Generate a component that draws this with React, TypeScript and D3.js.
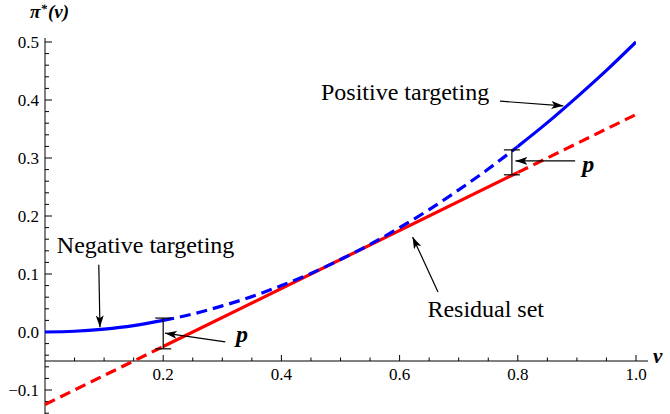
import React, { useEffect, useRef } from 'react';
import * as d3 from 'd3';

// values
const vValues = [0, 0.05, 0.1, 0.15, 0.2, 0.25, 0.3, 0.35, 0.4, 0.45, 0.5, 0.55, 0.6, 0.65, 0.7, 0.75, 0.8, 0.85, 0.9, 0.95, 1.0];
const piValues = [0, 0.0013, 0.005, 0.011, 0.02, 0.031, 0.045, 0.061, 0.08, 0.101, 0.125, 0.151, 0.18, 0.211, 0.245, 0.281, 0.32, 0.361, 0.405, 0.451, 0.5];
const lineV = [0, 0.2, 0.8, 1.0];
const lineValues = [-0.125, -0.025, 0.275, 0.375];

const xTicks = [0.2, 0.4, 0.6, 0.8, 1.0];
const xMinor = [0.05, 0.1, 0.15, 0.25, 0.3, 0.35, 0.45, 0.5, 0.55, 0.65, 0.7, 0.75, 0.85, 0.9, 0.95];
const yTicks = [-0.1, 0, 0.1, 0.2, 0.3, 0.4, 0.5];
const yMinor = [-0.14, -0.12, -0.08, -0.06, -0.04, -0.02, 0.02, 0.04, 0.06, 0.08, 0.12, 0.14, 0.16, 0.18, 0.22, 0.24, 0.26, 0.28, 0.32, 0.34, 0.36, 0.38, 0.42, 0.44, 0.46, 0.48];

// where the solid / dashed pieces switch
const splits = [0, 0.2, 0.8, 1.0];

// annotations, in data units
const labels = [
    { text: 'Positive targeting', v: 0.467, y: 0.4, bold: false },
    { text: 'Negative targeting', v: 0.02, y: 0.136, bold: false },
    { text: 'Residual set', v: 0.647, y: 0.026, bold: false },
    { text: 'p', v: 0.323, y: -0.017, bold: true },
    { text: 'p', v: 0.909, y: 0.276, bold: true },
];
const arrows = [
    { from: [0.77, 0.398], to: [0.877, 0.39] },
    { from: [0.091, 0.116], to: [0.093, 0.008] },
    { from: [0.665, 0.069], to: [0.622, 0.164] },
    { from: [0.305, -0.017], to: [0.203, -0.002] },
    { from: [0.897, 0.295], to: [0.796, 0.295] },
];
const brackets = [
    { v: 0.2, top: 0.024, bottom: -0.029 },
    { v: 0.79, top: 0.314, bottom: 0.271 },
];

const width = 670;
const height = 414;
const serif = '"Liberation Serif", "Times New Roman", serif';

const App: React.FC = () => {
    const svgRef = useRef(null);

    useEffect(() => {
        const svg = d3.select(svgRef.current);
        svg.selectAll('*').remove();

        const x = d3.scaleLinear().domain([0, 1]).range([45, 636]);
        const y = d3.scaleLinear().domain([0, 0.5]).range([332, 42]);
        const axisY = -0.05;

        const defs = svg.append('defs');
        defs.append('marker')
            .attr('id', 'head')
            .attr('markerUnits', 'userSpaceOnUse')
            .attr('markerWidth', 13).attr('markerHeight', 8)
            .attr('refX', 12).attr('refY', 4)
            .attr('orient', 'auto')
            .append('path')
            .attr('d', 'M0,0 L12,4 L0,8 L3,4 z')
            .attr('fill', 'black');

        // one clip per piece so the curve stays continuous across the switch points
        d3.range(splits.length - 1).forEach(i => {
            defs.append('clipPath').attr('id', `seg${i}`)
                .append('rect')
                .attr('x', x(splits[i])).attr('width', x(splits[i + 1]) - x(splits[i]))
                .attr('y', 0).attr('height', height);
        });

        // axes
        const ax = svg.append('g').attr('stroke', 'black').attr('stroke-width', 1);
        ax.append('line').attr('x1', x(0)).attr('x2', 648).attr('y1', y(axisY)).attr('y2', y(axisY));
        ax.append('line').attr('x1', x(0)).attr('x2', x(0)).attr('y1', 38).attr('y2', height);
        ax.selectAll('.xt').data(xTicks).enter().append('line')
            .attr('x1', d => x(d)).attr('x2', d => x(d)).attr('y1', y(axisY)).attr('y2', y(axisY) - 6);
        ax.selectAll('.xm').data(xMinor).enter().append('line')
            .attr('x1', d => x(d)).attr('x2', d => x(d)).attr('y1', y(axisY)).attr('y2', y(axisY) - 3.5);
        ax.selectAll('.yt').data(yTicks).enter().append('line')
            .attr('x1', x(0)).attr('x2', x(0) + 7).attr('y1', d => y(d)).attr('y2', d => y(d));
        ax.selectAll('.ym').data(yMinor).enter().append('line')
            .attr('x1', x(0)).attr('x2', x(0) + 4).attr('y1', d => y(d)).attr('y2', d => y(d));

        const fmt = (d: number) => d3.format('.1f')(d).replace('-', '\u2212');
        svg.selectAll('.xl').data(xTicks).enter().append('text')
            .attr('x', d => x(d)).attr('y', y(axisY) + 19)
            .attr('text-anchor', 'middle').attr('font-family', serif).attr('font-size', 17)
            .text(fmt);
        svg.selectAll('.yl').data(yTicks).enter().append('text')
            .attr('x', x(0) - 6).attr('y', d => y(d) + 5.5)
            .attr('text-anchor', 'end').attr('font-family', serif).attr('font-size', 17)
            .text(fmt);

        // axis titles
        const yTitle = svg.append('text').attr('x', 30).attr('y', 18)
            .attr('font-family', serif).attr('font-size', 19).attr('font-weight', 'bold').attr('font-style', 'italic');
        yTitle.append('tspan').text('\u03c0');
        yTitle.append('tspan').attr('dy', -5).attr('font-size', 13).text('*');
        yTitle.append('tspan').attr('dy', 5).attr('dx', 1).text('(v)');
        svg.append('text').attr('x', 653).attr('y', 363)
            .attr('font-family', serif).attr('font-size', 21).attr('font-weight', 'bold').attr('font-style', 'italic')
            .text('v');

        // curves
        const curvePts = vValues.map((v, i) => [v, piValues[i]] as [number, number]);
        const linePts = lineV.map((v, i) => [v, lineValues[i]] as [number, number]);
        const smooth = d3.line<[number, number]>().x(d => x(d[0])).y(d => y(d[1])).curve(d3.curveNatural);
        const straight = d3.line<[number, number]>().x(d => x(d[0])).y(d => y(d[1]));

        const red = '#ff0000';
        const blue = '#0000ff';
        const redDashed = [true, false, true];
        const blueDashed = [false, true, false];
        redDashed.forEach((dashed, i) => {
            svg.append('path').attr('d', straight(linePts))
                .attr('clip-path', `url(#seg${i})`)
                .attr('fill', 'none').attr('stroke', red).attr('stroke-width', 3.2)
                .attr('stroke-dasharray', dashed ? '11,6' : null);
        });
        blueDashed.forEach((dashed, i) => {
            svg.append('path').attr('d', smooth(curvePts))
                .attr('clip-path', `url(#seg${i})`)
                .attr('fill', 'none').attr('stroke', blue).attr('stroke-width', 3.2)
                .attr('stroke-dasharray', dashed ? '11,6' : null);
        });

        // brackets
        const br = svg.append('g').attr('stroke', 'black').attr('stroke-width', 1.2);
        brackets.forEach(b => {
            br.append('line').attr('x1', x(b.v)).attr('x2', x(b.v)).attr('y1', y(b.top)).attr('y2', y(b.bottom));
            br.append('line').attr('x1', x(b.v) - 8).attr('x2', x(b.v) + 8).attr('y1', y(b.top)).attr('y2', y(b.top));
            br.append('line').attr('x1', x(b.v) - 8).attr('x2', x(b.v) + 8).attr('y1', y(b.bottom)).attr('y2', y(b.bottom));
        });

        // arrows
        svg.selectAll('.arrow').data(arrows).enter().append('line')
            .attr('x1', d => x(d.from[0])).attr('y1', d => y(d.from[1]))
            .attr('x2', d => x(d.to[0])).attr('y2', d => y(d.to[1]))
            .attr('stroke', 'black').attr('stroke-width', 1.2)
            .attr('marker-end', 'url(#head)');

        svg.selectAll('.lab').data(labels).enter().append('text')
            .attr('x', d => x(d.v)).attr('y', d => y(d.y))
            .attr('font-family', serif)
            .attr('font-size', 24)
            .attr('font-weight', d => d.bold ? 'bold' : 'normal')
            .attr('font-style', d => d.bold ? 'italic' : 'normal')
            .text(d => d.text);
    }, []);

    return (
        <svg ref={svgRef} width={width} height={height}
            style={{ position: 'absolute', left: 0, top: 0, backgroundColor: 'white' }}></svg>
    );
};

export default App;
